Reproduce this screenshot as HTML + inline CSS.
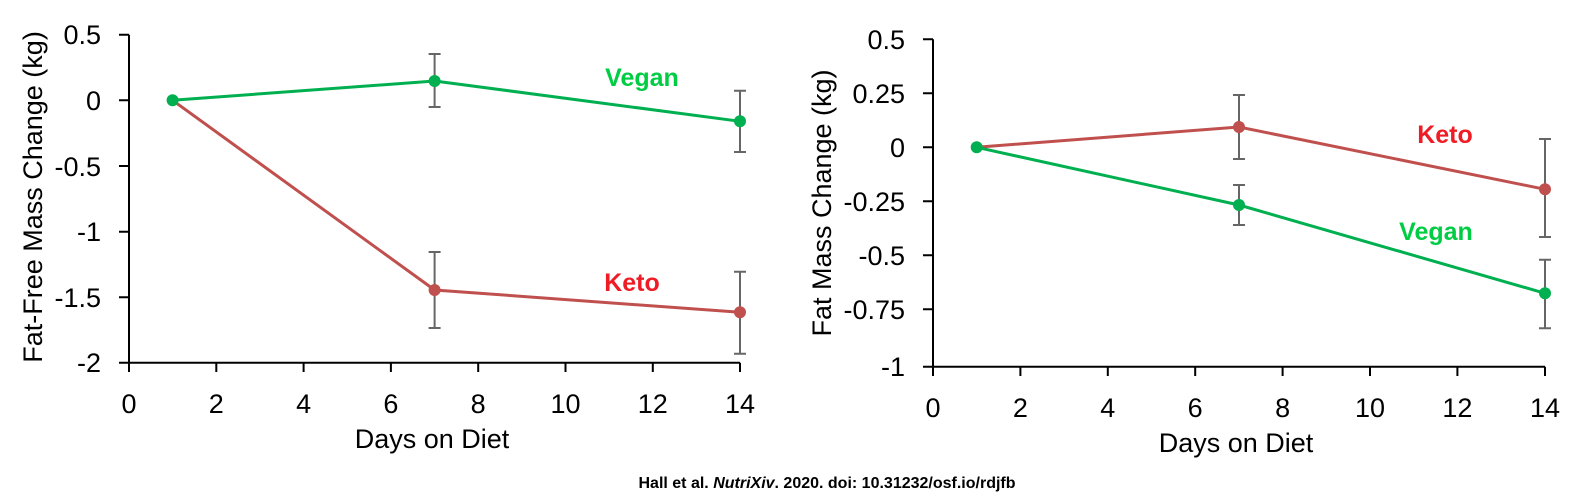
<!DOCTYPE html>
<html><head><style>
html,body{margin:0;padding:0;background:#fff;}
svg{display:block;}
text{font-family:"Liberation Sans",sans-serif;}
</style></head><body>
<svg width="1580" height="503" viewBox="0 0 1580 503" xmlns="http://www.w3.org/2000/svg">
<g stroke="#000" stroke-width="2" fill="none">
<path d="M129 34.7V362.7H740"/>
<path d="M119 34.7H129M119 100.3H129M119 166H129M119 231.7H129M119 297.3H129M119 362.7H129"/>
<path d="M129 362.7V372M216.3 362.7V372M303.6 362.7V372M390.9 362.7V372M478.2 362.7V372M565.5 362.7V372M652.8 362.7V372M740 362.7V372"/>
<path d="M933 39.3V366.7H1545"/>
<path d="M923 39.3H933M923 93.3H933M923 147.3H933M923 201.3H933M923 255.3H933M923 309.3H933M923 366.7H933"/>
<path d="M933 366.7V376M1020.4 366.7V376M1107.8 366.7V376M1195.2 366.7V376M1282.6 366.7V376M1370 366.7V376M1457.4 366.7V376M1545 366.7V376"/>
</g>
<g font-size="27" fill="#000" text-anchor="end">
<text x="101" y="44">0.5</text><text x="101" y="110">0</text><text x="101" y="176">-0.5</text><text x="101" y="241">-1</text><text x="101" y="307">-1.5</text><text x="101" y="372">-2</text>
<text x="905" y="49">0.5</text><text x="905" y="103">0.25</text><text x="905" y="157">0</text><text x="905" y="211">-0.25</text><text x="905" y="265">-0.5</text><text x="905" y="319">-0.75</text><text x="905" y="376">-1</text>
</g>
<g font-size="27" fill="#000" text-anchor="middle">
<text x="129" y="413">0</text><text x="216.3" y="413">2</text><text x="303.6" y="413">4</text><text x="390.9" y="413">6</text><text x="478.2" y="413">8</text><text x="565.5" y="413">10</text><text x="652.8" y="413">12</text><text x="740" y="413">14</text>
<text x="933" y="417">0</text><text x="1020.4" y="417">2</text><text x="1107.8" y="417">4</text><text x="1195.2" y="417">6</text><text x="1282.6" y="417">8</text><text x="1370" y="417">10</text><text x="1457.4" y="417">12</text><text x="1545" y="417">14</text>
<text x="432" y="448">Days on Diet</text>
<text x="1236" y="452">Days on Diet</text>
<text transform="translate(42,197) rotate(-90)">Fat-Free Mass Change (kg)</text>
<text transform="translate(831,203) rotate(-90)">Fat Mass Change (kg)</text>
</g>
<g stroke="#666" stroke-width="2" fill="none">
<path d="M434.6 54V107M428.6 54H440.6M428.6 107H440.6"/>
<path d="M740 90.7V152M734 90.7H746M734 152H746"/>
<path d="M434.6 252V328M428.6 252H440.6M428.6 328H440.6"/>
<path d="M740 271.7V353.7M734 271.7H746M734 353.7H746"/>
<path d="M1239 95V159M1233 95H1245M1233 159H1245"/>
<path d="M1545 139V237M1539 139H1551M1539 237H1551"/>
<path d="M1239 185V225M1233 185H1245M1233 225H1245"/>
<path d="M1545 259.7V328.3M1539 259.7H1551M1539 328.3H1551"/>
</g>
<g stroke-width="3" fill="none">
<polyline stroke="#c0504d" points="172.6,100.3 434.6,290 740,312.3"/>
<polyline stroke="#00b050" points="172.6,100.3 434.6,81 740,121.3"/>
<polyline stroke="#c0504d" points="976.7,147.3 1239,127 1545,189.3"/>
<polyline stroke="#00b050" points="976.7,147.3 1239,205 1545,293.3"/>
</g>
<g fill="#c0504d"><circle cx="434.6" cy="290" r="6"/><circle cx="740" cy="312.3" r="6"/><circle cx="1239" cy="127" r="6"/><circle cx="1545" cy="189.3" r="6"/></g>
<g fill="#00b050"><circle cx="172.6" cy="100.3" r="6"/><circle cx="434.6" cy="81" r="6"/><circle cx="740" cy="121.3" r="6"/><circle cx="976.7" cy="147.3" r="6"/><circle cx="1239" cy="205" r="6"/><circle cx="1545" cy="293.3" r="6"/></g>
<g font-size="25" font-weight="bold" text-anchor="middle">
<text x="642" y="86" fill="#00cc44">Vegan</text>
<text x="632" y="291" fill="#ee1c25">Keto</text>
<text x="1445" y="143" fill="#ee1c25">Keto</text>
<text x="1436" y="240" fill="#00cc44">Vegan</text>
</g>
<text x="827" y="488" font-size="16" font-weight="bold" text-anchor="middle" fill="#000">Hall et al. <tspan font-style="italic">NutriXiv</tspan>. 2020. doi: 10.31232/osf.io/rdjfb</text>
</svg>
</body></html>
